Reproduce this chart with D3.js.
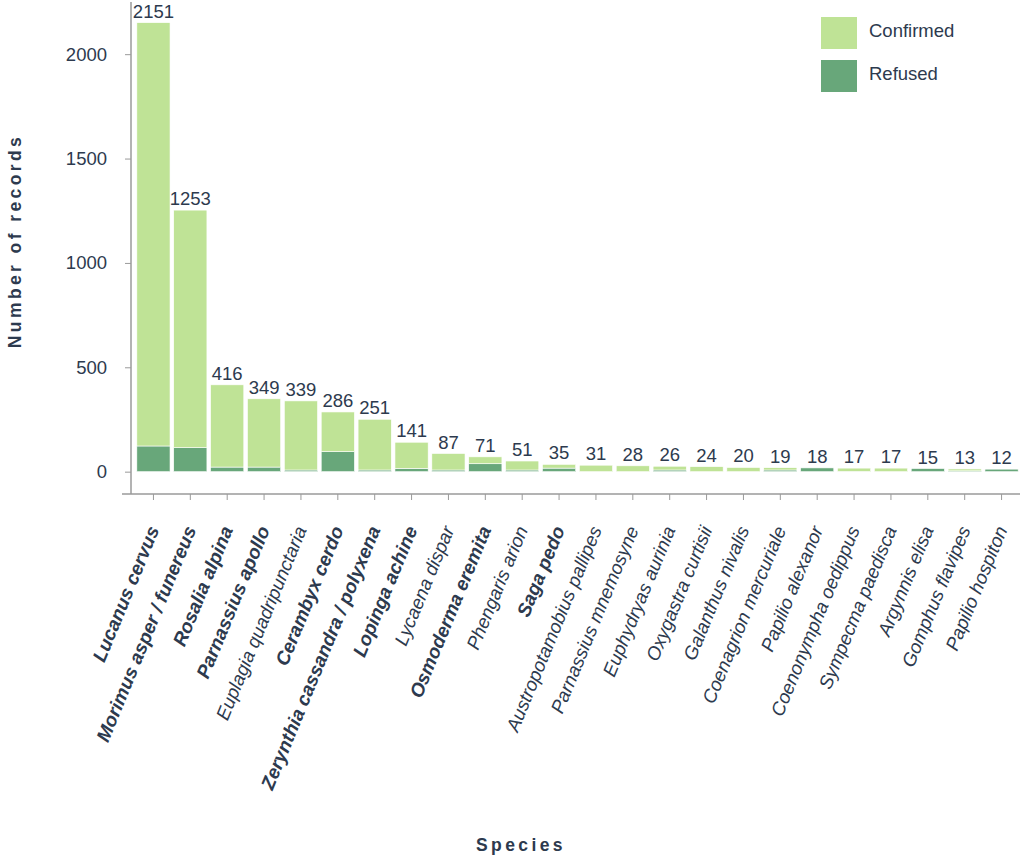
<!DOCTYPE html>
<html>
  <head>
    <meta charset="utf-8">
    <title>Records per species</title>
    <script src="https://cdn.jsdelivr.net/npm/d3@7"></script>
    <style>
      html, body { margin: 0; padding: 0; background: #fff; }
      #chart { width: 1024px; height: 857px; }
      text { font-family: "Liberation Sans", Arial, sans-serif; fill: #2d3a4e; }
      .cat { font-style: italic; font-size: 18.8px; }
      .cat.bold { font-weight: bold; font-size: 19px; }
      .cat.light { font-weight: normal; }
      .title { font-weight: bold; letter-spacing: 3.4px; font-size: 17.5px; }
    </style>
  </head>
  <body>
    <div id="chart"></div>
    <script>
      // species in chart order, bold ones are shown in bold
      var species = ["Lucanus cervus", "Morimus asper / funereus", "Rosalia alpina", "Parnassius apollo",
        "Euplagia quadripunctaria", "Cerambyx cerdo", "Zerynthia cassandra / polyxena", "Lopinga achine",
        "Lycaena dispar", "Osmoderma eremita", "Phengaris arion", "Saga pedo",
        "Austropotamobius pallipes", "Parnassius mnemosyne", "Euphydryas aurinia", "Oxygastra curtisii",
        "Galanthus nivalis", "Coenagrion mercuriale", "Papilio alexanor", "Coenonympha oedippus",
        "Sympecma paedisca", "Argynnis elisa", "Gomphus flavipes", "Papilio hospiton"];
      var boldSpecies = ["Lucanus cervus", "Morimus asper / funereus", "Rosalia alpina", "Parnassius apollo",
        "Cerambyx cerdo", "Zerynthia cassandra / polyxena", "Lopinga achine", "Osmoderma eremita", "Saga pedo"];
      // total records (label on top of each bar)
      var totals = [2151, 1253, 416, 349, 339, 286, 251, 141, 87, 71, 51, 35,
        31, 28, 26, 24, 20, 19, 18, 17, 17, 15, 13, 12];
      var refused = [123, 115, 22, 22, 8, 96, 8, 16, 8, 38, 8, 17,
        0, 0, 8, 0, 0, 8, 18, 1, 0, 15, 4, 12];
      var yTicks = [0, 500, 1000, 1500, 2000];
      var legendLabels = ["Confirmed", "Refused"];
      var colors = {Confirmed: "#bfe396", Refused: "#68a77a"};

      var rows = species.map(function (s, i) {
        return {name: s, total: totals[i], refused: refused[i], confirmed: totals[i] - refused[i]};
      });

      var svg = d3.select("#chart").append("svg")
        .attr("width", 1024)
        .attr("height", 857);

      var x = d3.scaleBand().domain(species).range([135, 1020]).paddingInner(0.1).paddingOuter(0.05);
      var y = d3.scaleLinear().domain([-107, 2250]).range([494, 2]);

      var stack = d3.stack().keys(["refused", "confirmed"]);
      var series = stack(rows);

      svg.selectAll("g.layer")
        .data(series)
        .enter().append("g")
        .attr("class", "layer")
        .attr("fill", function (d) { return d.key == "refused" ? colors.Refused : colors.Confirmed; })
        .selectAll("rect")
        .data(function (d) { return d; })
        .enter().append("rect")
        .attr("x", function (d) { return x(d.data.name); })
        .attr("width", x.bandwidth())
        .attr("y", function (d) { return y(d[1]); })
        .attr("height", function (d) { return y(d[0]) - y(d[1]); })
        .attr("stroke", "#fff")
        .attr("stroke-width", 0.6);

      // value labels
      svg.selectAll("text.val")
        .data(rows)
        .enter().append("text")
        .attr("class", "val")
        .attr("x", function (d) { return x(d.name) + x.bandwidth() / 2; })
        .attr("y", function (d) { return y(d.total) - 5; })
        .attr("text-anchor", "middle")
        .attr("font-size", 18.5)
        .text(function (d) { return d.total; });

      // y axis
      var yAxis = svg.append("g")
        .attr("transform", "translate(131,0)")
        .call(d3.axisLeft(y).tickValues(yTicks).tickFormat(d3.format("d")).tickSize(6).tickPadding(18));
      yAxis.select(".domain").remove();
      yAxis.selectAll(".tick line").attr("stroke", "#9a9a9a");
      yAxis.selectAll(".tick text").attr("font-size", 18.5).attr("fill", "#2d3a4e")
        .attr("font-family", "Liberation Sans, Arial, sans-serif");
      svg.append("line").attr("x1", 131).attr("x2", 131).attr("y1", 2).attr("y2", 494)
        .attr("stroke", "#9a9a9a").attr("stroke-width", 1.5);

      // x axis
      var xAxis = svg.append("g")
        .attr("transform", "translate(0,494)")
        .call(d3.axisBottom(x).tickSize(6).tickFormat(""));
      xAxis.select(".domain").remove();
      xAxis.selectAll(".tick line").attr("stroke", "#9a9a9a");
      svg.append("line").attr("x1", 122).attr("x2", 1020).attr("y1", 494).attr("y2", 494)
        .attr("stroke", "#9a9a9a").attr("stroke-width", 1.5);

      svg.selectAll("text.cat")
        .data(species)
        .enter().append("text")
        .attr("class", function (d) { return boldSpecies.indexOf(d) >= 0 ? "cat bold" : "cat light"; })
        .attr("transform", function (d) {
          return "translate(" + (x(d) + x.bandwidth() / 2) + ",527) rotate(-67.5)";
        })
        .attr("text-anchor", "end")
        .attr("dy", "0.35em")
        .text(function (d) { return d; });

      // axis titles
      svg.append("text")
        .attr("class", "title")
        .attr("transform", "translate(21,241) rotate(-90)")
        .attr("text-anchor", "middle")
        .text("Number of records");
      svg.append("text")
        .attr("class", "title")
        .attr("x", 521)
        .attr("y", 851)
        .attr("text-anchor", "middle")
        .text("Species");

      // legend
      var legend = svg.selectAll("g.legend")
        .data(legendLabels)
        .enter().append("g")
        .attr("class", "legend")
        .attr("transform", function (d, i) { return "translate(821," + (17 + i * 43) + ")"; });
      legend.append("rect")
        .attr("width", 36)
        .attr("height", 32)
        .attr("fill", function (d) { return colors[d]; });
      legend.append("text")
        .attr("x", 48)
        .attr("y", 14)
        .attr("dy", "0.35em")
        .attr("font-size", 18.5)
        .text(function (d) { return d; });
    </script>
  </body>
</html>
